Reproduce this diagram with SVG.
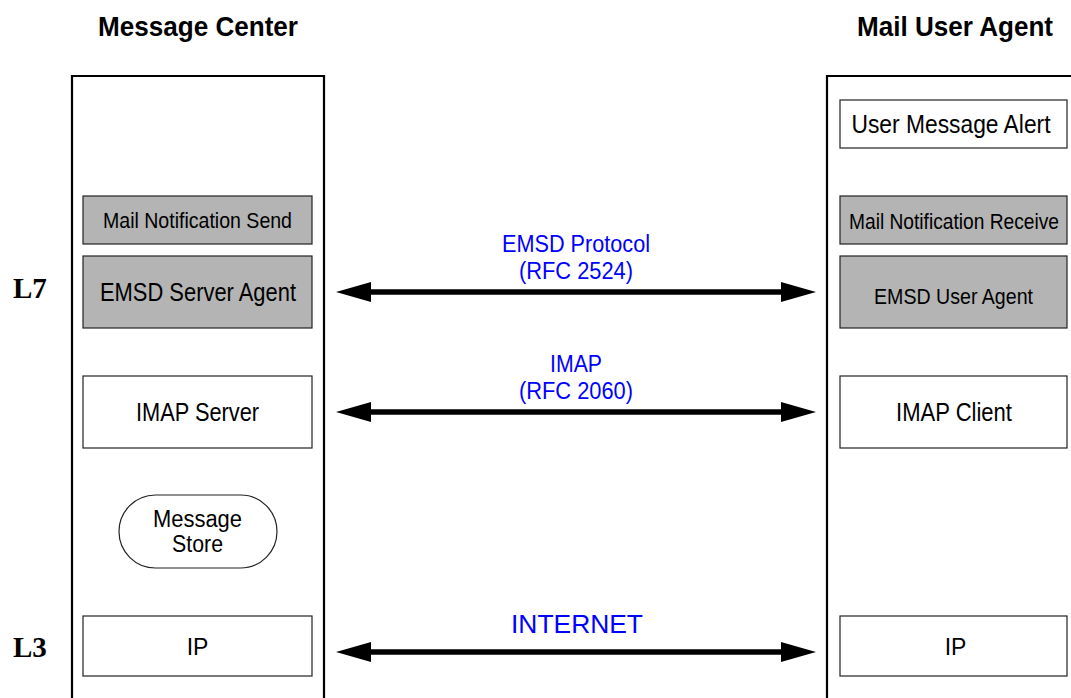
<svg xmlns="http://www.w3.org/2000/svg" width="1071" height="698" viewBox="0 0 1071 698">
<defs>
<style>
.cont{fill:none;stroke:#000;stroke-width:2.2}
.box{fill:#fff;stroke:#222;stroke-width:1.2}
.shade{fill:#b4b4b4;stroke:#222;stroke-width:1.2}
.t{font-family:"Liberation Sans",Arial,Helvetica,sans-serif;font-size:25px;fill:#000;text-anchor:middle}
.ts{font-size:22px}
.tm{font-size:23px}
.h{font-family:"Liberation Sans",Arial,Helvetica,sans-serif;font-size:28px;font-weight:bold;fill:#000;text-anchor:middle}
.lay{font-family:"Liberation Serif","Times New Roman",serif;font-size:29px;font-weight:bold;fill:#000}
.lbl{font-family:"Liberation Sans",Arial,Helvetica,sans-serif;font-size:23px;fill:#0000ff;text-anchor:middle}
.arr{stroke:#000;stroke-width:5.5;fill:none;marker-start:url(#ah);marker-end:url(#ah)}
</style>
<marker id="ah" viewBox="0 0 35 20" markerWidth="35" markerHeight="20" refX="21" refY="10" markerUnits="userSpaceOnUse" orient="auto-start-reverse">
<path d="M0,0 L35,10 L0,20 z" fill="#000"/>
</marker>
</defs>
<rect width="1071" height="698" fill="#fff"/>

<g id="headers">
<text class="h" x="198" y="36" textLength="200" lengthAdjust="spacingAndGlyphs">Message Center</text>
<text class="h" x="955" y="36" textLength="196" lengthAdjust="spacingAndGlyphs">Mail User Agent</text>
</g>
<g id="layers">
<text class="lay" x="13" y="298">L7</text>
<text class="lay" x="13" y="657">L3</text>
</g>

<g id="message-center">
<path class="cont" d="M72,700 V76 H324 V700"/>
</g>
<g id="mail-user-agent">
<path class="cont" d="M827,700 V76 H1073"/>
</g>

<g id="mail-notification-send">
<rect class="shade" x="83" y="196" width="229" height="48"/>
<text class="t ts" x="197.5" y="228" textLength="189" lengthAdjust="spacingAndGlyphs">Mail Notification Send</text>
</g>
<g id="emsd-server-agent">
<rect class="shade" x="83" y="256" width="229" height="72"/>
<text class="t" x="198" y="301" textLength="196" lengthAdjust="spacingAndGlyphs">EMSD Server Agent</text>
</g>
<g id="imap-server">
<rect class="box" x="83" y="376" width="229" height="72"/>
<text class="t" x="197.5" y="421" textLength="123" lengthAdjust="spacingAndGlyphs">IMAP Server</text>
</g>
<g id="message-store">
<rect class="box" x="119" y="495" width="158" height="73" rx="36.5" ry="36.5"/>
<text class="t tm" x="197.5" y="527" textLength="89" lengthAdjust="spacingAndGlyphs">Message</text>
<text class="t tm" x="197.5" y="552" textLength="51" lengthAdjust="spacingAndGlyphs">Store</text>
</g>
<g id="ip-left">
<rect class="box" x="83" y="616" width="229" height="60"/>
<text class="t tm" x="197.5" y="655">IP</text>
</g>

<g id="user-message-alert">
<rect class="box" x="840" y="100" width="227" height="48"/>
<text class="t" x="951" y="133" textLength="199" lengthAdjust="spacingAndGlyphs">User Message Alert</text>
</g>
<g id="mail-notification-receive">
<rect class="shade" x="840" y="196" width="227" height="48"/>
<text class="t ts" x="954" y="229" textLength="210" lengthAdjust="spacingAndGlyphs">Mail Notification Receive</text>
</g>
<g id="emsd-user-agent">
<rect class="shade" x="840" y="256" width="227" height="72"/>
<text class="t ts" x="953.5" y="304" textLength="159" lengthAdjust="spacingAndGlyphs">EMSD User Agent</text>
</g>
<g id="imap-client">
<rect class="box" x="840" y="376" width="227" height="72"/>
<text class="t" x="954" y="421" textLength="116" lengthAdjust="spacingAndGlyphs">IMAP Client</text>
</g>
<g id="ip-right">
<rect class="box" x="840" y="616" width="227" height="60"/>
<text class="t tm" x="955.5" y="655">IP</text>
</g>

<g id="connectors">
<line class="arr" x1="350" y1="292" x2="802" y2="292"/>
<line class="arr" x1="350" y1="412" x2="802" y2="412"/>
<line class="arr" x1="350" y1="652" x2="802" y2="652"/>
<text class="lbl" x="576" y="252" textLength="148" lengthAdjust="spacingAndGlyphs">EMSD Protocol</text>
<text class="lbl" x="576" y="279" textLength="114" lengthAdjust="spacingAndGlyphs">(RFC 2524)</text>
<text class="lbl" x="576" y="372" textLength="52" lengthAdjust="spacingAndGlyphs">IMAP</text>
<text class="lbl" x="576" y="399" textLength="114" lengthAdjust="spacingAndGlyphs">(RFC 2060)</text>
<text class="lbl" x="577" y="633" style="font-size:26px" textLength="132" lengthAdjust="spacingAndGlyphs">INTERNET</text>
</g>
</svg>
